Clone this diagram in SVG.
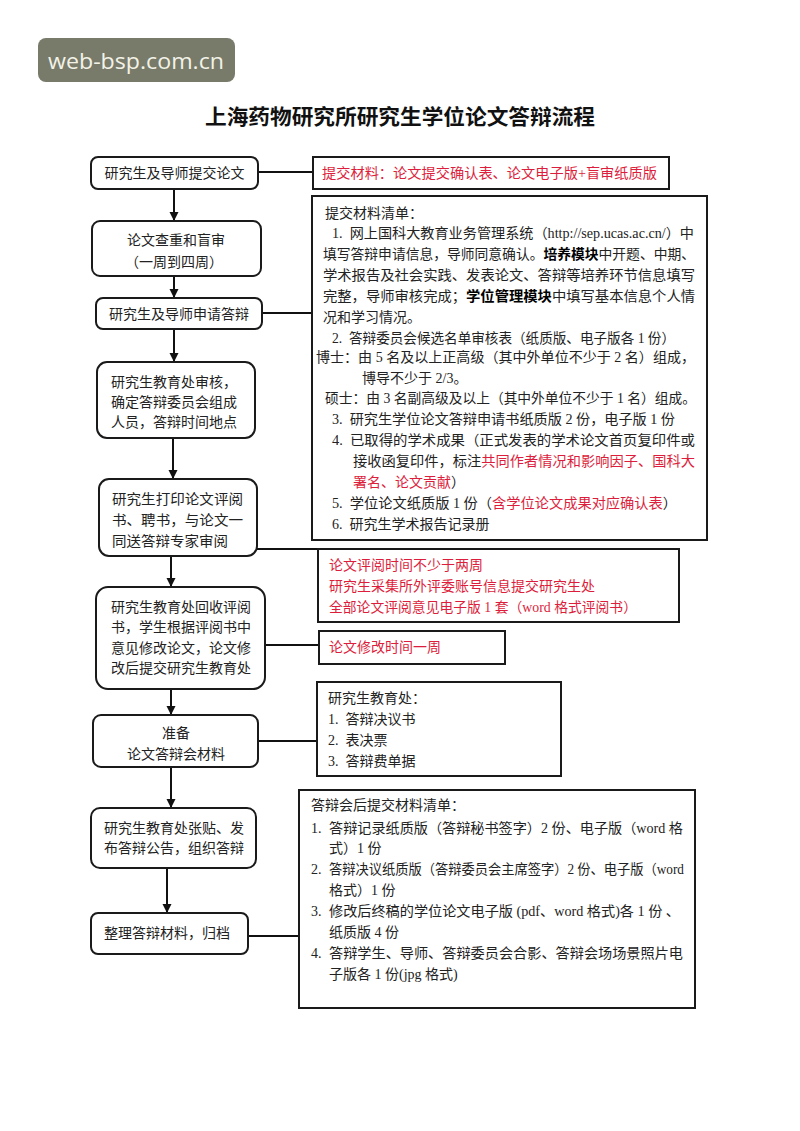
<svg xmlns="http://www.w3.org/2000/svg" width="800" height="1131" viewBox="0 0 800 1131">
<defs>
<marker id="ah" viewBox="0 0 10 10" refX="10" refY="5" markerWidth="9" markerHeight="11" orient="auto" markerUnits="userSpaceOnUse"><path d="M0,0 L10,5 L0,10 z" fill="#111"/></marker>
</defs>
<style>
rect.n{fill:#fff;stroke:#1a1a1a;stroke-width:2}
rect.bx{fill:#fff;stroke:#1a1a1a;stroke-width:2}
text{font-family:"Liberation Serif","Noto Sans CJK SC",serif;font-size:14px;fill:#222}
.r{fill:#dc1e3c}
.b{font-weight:bold;fill:#000}
.c{text-anchor:middle}
.conn line{stroke:#111;stroke-width:2;fill:none}
.conn line.a{marker-end:url(#ah)}
</style>
<rect width="800" height="1131" fill="#fff"/>
<g id="watermark">
<rect x="38" y="38" width="197" height="44" rx="8" fill="#787a6a"/>
<text x="48" y="69" textLength="176" lengthAdjust="spacingAndGlyphs" style="font-family:'Open Sans','DejaVu Sans',sans-serif;font-size:22px;fill:#f2f2e6">web-bsp.com.cn</text>
</g>
<g id="title">
<text x="205" y="124" textLength="390" lengthAdjust="spacingAndGlyphs" style="font-size:21px;font-weight:bold;fill:#111">上海药物研究所研究生学位论文答辩流程</text>
</g>
<g id="connectors" class="conn">
<line x1="258" y1="172" x2="313" y2="172"/>
<line x1="262" y1="313" x2="312" y2="313"/>
<line x1="257" y1="549" x2="318" y2="549"/>
<line x1="265" y1="645" x2="319" y2="645"/>
<line x1="258" y1="741" x2="317" y2="741"/>
<line x1="248" y1="936" x2="299" y2="936"/>
<line class="a" x1="174" y1="190" x2="174" y2="221"/>
<line class="a" x1="174" y1="277" x2="174" y2="298"/>
<line class="a" x1="174" y1="329" x2="174" y2="362"/>
<line class="a" x1="173" y1="439" x2="173" y2="479"/>
<line class="a" x1="171" y1="557" x2="171" y2="587"/>
<line class="a" x1="171" y1="690" x2="171" y2="715"/>
<line class="a" x1="171" y1="768" x2="171" y2="808"/>
<line class="a" x1="167" y1="869" x2="167" y2="913"/>
</g>
<g id="n1"><rect class="n" x="91" y="157" width="167" height="32" rx="7"/><text class="c" x="174.5" y="178">研究生及导师提交论文</text></g>
<g id="n2"><rect class="n" x="92" y="221" width="169" height="55" rx="8"/><text class="c" x="176" y="245">论文查重和盲审</text><text class="c" x="174" y="267">（一周到四周）</text></g>
<g id="n3"><rect class="n" x="96" y="298" width="166" height="31" rx="7"/><text class="c" x="179" y="319">研究生及导师申请答辩</text></g>
<g id="n4"><rect class="n" x="97" y="362" width="158" height="76" rx="10"/><text x="111" y="387">研究生教育处审核，</text><text x="111" y="407">确定答辩委员会组成</text><text x="111" y="427">人员，答辩时间地点</text></g>
<g id="n5"><rect class="n" x="99" y="479" width="158" height="77" rx="10"/><text x="112" y="504" textLength="131" lengthAdjust="spacingAndGlyphs">研究生打印论文评阅</text><text x="112" y="525" textLength="131" lengthAdjust="spacingAndGlyphs">书、聘书，与论文一</text><text x="112" y="546" textLength="116" lengthAdjust="spacingAndGlyphs">同送答辩专家审阅</text></g>
<g id="n6"><rect class="n" x="96" y="587" width="169" height="102" rx="12"/><text x="111" y="612">研究生教育处回收评阅</text><text x="111" y="632">书，学生根据评阅书中</text><text x="111" y="653">意见修改论文，论文修</text><text x="111" y="673">改后提交研究生教育处</text></g>
<g id="n7"><rect class="n" x="93" y="715" width="165" height="52" rx="8"/><text class="c" x="176" y="738">准备</text><text class="c" x="176" y="759">论文答辩会材料</text></g>
<g id="n8"><rect class="n" x="91" y="808" width="165" height="60" rx="9"/><text x="104" y="833">研究生教育处张贴、发</text><text x="104" y="853">布答辩公告，组织答辩</text></g>
<g id="n9"><rect class="n" x="91" y="913" width="157" height="41" rx="7"/><text x="104" y="938">整理答辩材料，归档</text></g>
<g id="b1"><rect class="bx" x="313" y="157" width="356" height="32"/><text class="r" x="322" y="178" textLength="335" lengthAdjust="spacingAndGlyphs">提交材料：论文提交确认表、论文电子版+盲审纸质版</text></g>
<g id="b2"><rect class="bx" x="312" y="196" width="395" height="344"/>
<text x="325" y="218">提交材料清单：</text>
<text x="332" y="238" textLength="362" lengthAdjust="spacingAndGlyphs">1.&#160;&#160;网上国科大教育业务管理系统（http://sep.ucas.ac.cn/）中</text>
<text x="323" y="259" textLength="372" lengthAdjust="spacingAndGlyphs">填写答辩申请信息，导师同意确认。<tspan class="b">培养模块</tspan>中开题、中期、</text>
<text x="323" y="280" textLength="372" lengthAdjust="spacingAndGlyphs">学术报告及社会实践、发表论文、答辩等培养环节信息填写</text>
<text x="323" y="301" textLength="372" lengthAdjust="spacingAndGlyphs">完整，导师审核完成；<tspan class="b">学位管理模块</tspan>中填写基本信息个人情</text>
<text x="323" y="322">况和学习情况。</text>
<text x="332" y="343" textLength="343" lengthAdjust="spacingAndGlyphs">2.&#160;&#160;答辩委员会候选名单审核表（纸质版、电子版各 1 份）</text>
<text x="316" y="362" textLength="379" lengthAdjust="spacingAndGlyphs">博士：由 5 名及以上正高级（其中外单位不少于 2 名）组成，</text>
<text x="362" y="383">博导不少于 2/3。</text>
<text x="325" y="403" textLength="371" lengthAdjust="spacingAndGlyphs">硕士：由 3 名副高级及以上（其中外单位不少于 1 名）组成。</text>
<text x="332" y="424" textLength="343" lengthAdjust="spacingAndGlyphs">3.&#160;&#160;研究生学位论文答辩申请书纸质版 2 份，电子版 1 份</text>
<text x="332" y="445" textLength="363" lengthAdjust="spacingAndGlyphs">4.&#160;&#160;已取得的学术成果（正式发表的学术论文首页复印件或</text>
<text x="353" y="466" textLength="342" lengthAdjust="spacingAndGlyphs">接收函复印件，标注<tspan class="r">共同作者情况和影响因子、国科大</tspan></text>
<text x="353" y="487"><tspan class="r">署名、论文贡献</tspan>）</text>
<text x="332" y="508" textLength="345" lengthAdjust="spacingAndGlyphs">5.&#160;&#160;学位论文纸质版 1 份（<tspan class="r">含学位论文成果对应确认表</tspan>）</text>
<text x="332" y="529">6.&#160;&#160;研究生学术报告记录册</text>
</g>
<g id="b3"><rect class="bx" x="318" y="549" width="361" height="73"/>
<text class="r" x="329" y="570">论文评阅时间不少于两周</text>
<text class="r" x="329" y="591" textLength="266" lengthAdjust="spacingAndGlyphs">研究生采集所外评委账号信息提交研究生处</text>
<text class="r" x="329" y="612" textLength="308" lengthAdjust="spacingAndGlyphs">全部论文评阅意见电子版 1 套（word 格式评阅书）</text>
</g>
<g id="b4"><rect class="bx" x="319" y="631" width="186" height="33"/><text class="r" x="329" y="652">论文修改时间一周</text></g>
<g id="b5"><rect class="bx" x="317" y="682" width="244" height="94"/>
<text x="328" y="703">研究生教育处：</text>
<text x="328" y="724">1.&#160;&#160;答辩决议书</text>
<text x="328" y="745">2.&#160;&#160;表决票</text>
<text x="328" y="766">3.&#160;&#160;答辩费单据</text>
</g>
<g id="b6"><rect class="bx" x="299" y="790" width="396" height="218"/>
<text x="311" y="810">答辩会后提交材料清单：</text>
<text x="311" y="833">1.</text><text x="329" y="833" textLength="354" lengthAdjust="spacingAndGlyphs">答辩记录纸质版（答辩秘书签字）2 份、电子版（word 格</text>
<text x="329" y="853">式）1 份</text>
<text x="311" y="874">2.</text><text x="329" y="874" textLength="355" lengthAdjust="spacingAndGlyphs">答辩决议纸质版（答辩委员会主席签字）2 份、电子版（word</text>
<text x="329" y="895">格式）1 份</text>
<text x="311" y="916">3.</text><text x="329" y="916" textLength="351" lengthAdjust="spacingAndGlyphs">修改后终稿的学位论文电子版 (pdf、word 格式)各 1 份 、</text>
<text x="329" y="937">纸质版 4 份</text>
<text x="311" y="958">4.</text><text x="329" y="958" textLength="354" lengthAdjust="spacingAndGlyphs">答辩学生、导师、答辩委员会合影、答辩会场场景照片电</text>
<text x="329" y="979">子版各 1 份(jpg 格式)</text>
</g>
</svg>
